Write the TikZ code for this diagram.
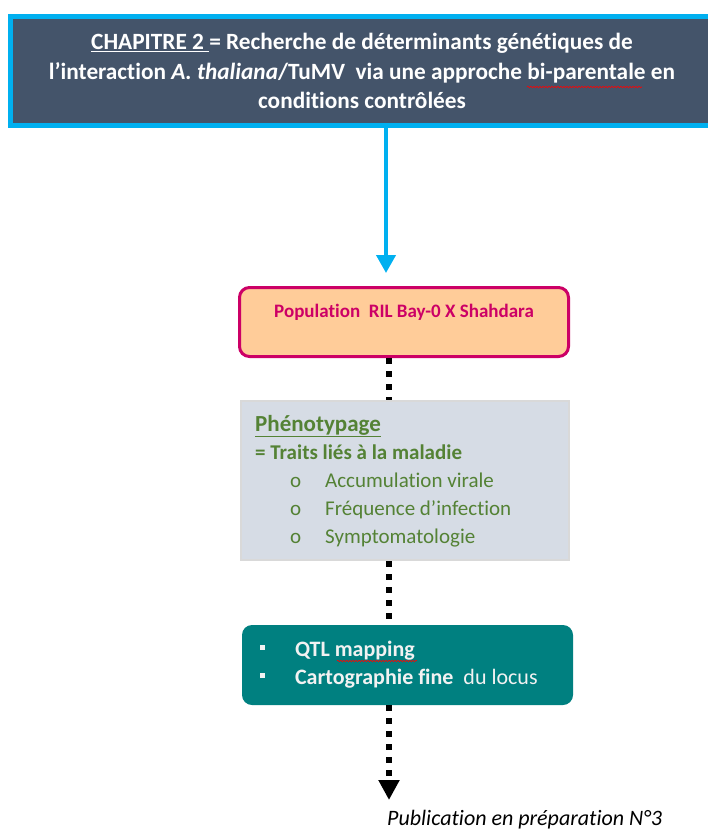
\documentclass[tikz,border=0pt]{standalone}
\usepackage{fontspec}
\setmainfont{Carlito}[Ligatures=NoCommon]
\usepackage{xcolor}
\usetikzlibrary{arrows.meta,positioning,decorations.pathmorphing}

\definecolor{chapblue}{HTML}{00B0F0}
\definecolor{chapfill}{HTML}{44546A}
\definecolor{rilpink}{HTML}{CC0066}
\definecolor{rilfill}{HTML}{FFCC99}
\definecolor{phenofill}{HTML}{D6DCE5}
\definecolor{phenoline}{HTML}{D9D9D9}
\definecolor{phenogreen}{HTML}{548235}
\definecolor{qtlteal}{HTML}{008080}
\definecolor{qtltext}{HTML}{F2F2F2}

\begin{document}
\begin{tikzpicture}[x=1pt, y=-1pt, >=Stealth,
  chapbox/.style={draw=chapblue, line width=5pt, fill=chapfill, minimum width=703pt, minimum height=109pt,
    inner sep=0pt, text=white, align=center, font=\bfseries\fontsize{23.3}{29.5}\selectfont},
  rilbox/.style={draw=rilpink, line width=3pt, fill=rilfill, rounded corners=10pt, minimum width=329pt, minimum height=69pt},
  riltext/.style={text=rilpink, inner sep=0pt, font=\bfseries\fontsize{19}{23}\selectfont},
  phenobox/.style={draw=phenoline, line width=2pt, fill=phenofill, minimum width=328pt, minimum height=159pt},
  phenotext/.style={text=phenogreen, inner sep=0pt, font=\bfseries\fontsize{21}{28}\selectfont},
  qtlbox/.style={fill=qtlteal, rounded corners=10pt, minimum width=331pt, minimum height=80pt},
  qtltxt/.style={text=qtltext, inner sep=0pt, font=\fontsize{22}{28}\selectfont},
  bluearrow/.style={draw=chapblue, line width=4pt, -{Triangle[width=19pt,length=18pt]}},
  dotline/.style={line width=6pt, dash pattern=on 6pt off 7pt},
  spell/.style={red, line width=0.6pt, decorate, decoration={snake, amplitude=0.8pt, segment length=3pt}}
]
\path[use as bounding box, fill=white] (0,0) rectangle (707,832);

% boxes
\node[chapbox] (chap) at (362,71) {\underline{CHAPITRE 2\ }= Recherche de déterminants génétiques de\\
  l’interaction \textit{A.~thaliana}/TuMV\ \ via une approche bi-parentale en\\
  conditions contrôlées};
\node[rilbox] (pop) at (404,322) {};
\node[phenobox] (pheno) at (405,480.5) {};
\node[qtlbox] (qtl) at (407.5,665) {};

% texts
\node[riltext, anchor=base] (poptext) at ([yshift=-31pt]pop.north) {Population\ \ RIL Bay-0 X Shahdara};
\node[phenotext, anchor=base west] (phenolist) at ([xshift=15pt, yshift=-31pt]pheno.north west) {\parbox[t]{310pt}{%
  {\fontsize{23}{28}\selectfont\underline{Phénotypage}}\par
  = Traits liés à la maladie\par
  \mdseries
  \hspace*{35pt}\makebox[35pt][l]{o}Accumulation virale\par
  \hspace*{35pt}\makebox[35pt][l]{o}Fréquence d’infection\par
  \hspace*{35pt}\makebox[35pt][l]{o}Symptomatologie}};
\node[qtltxt, anchor=base west] (qtllist) at ([xshift=18pt, yshift=-32pt]qtl.north west) {\parbox[t]{310pt}{%
  \makebox[35pt][l]{\raisebox{7pt}{\rule{5pt}{5pt}}}\textbf{QTL mapping}\par
  \makebox[35pt][l]{\raisebox{7pt}{\rule{5pt}{5pt}}}\textbf{Cartographie fine}\ \ du locus}};
\node[anchor=base west, inner sep=0pt, font=\itshape\fontsize{22}{26}\selectfont] (pub) at (387,825) {Publication en préparation N°3};

% connectors
\coordinate (bluetip) at (386,273);
\coordinate (dotx) at (389,0);
\coordinate (pubtip) at (389,800);
\draw[bluearrow] (chap.south -| bluetip) -- (bluetip);
\draw[dotline] (pop.south -| dotx) -- (pheno.north -| dotx);
\draw[dotline] (pheno.south -| dotx) -- (qtl.north -| dotx);
\draw[dotline, -{Triangle[width=20pt,length=20pt]}] (qtl.south -| dotx) -- (pubtip);

% spell check marks
\draw[spell] (527,87) -- (642,87);
\draw[spell] (337,661) -- (417,661);
\end{tikzpicture}
\end{document}
